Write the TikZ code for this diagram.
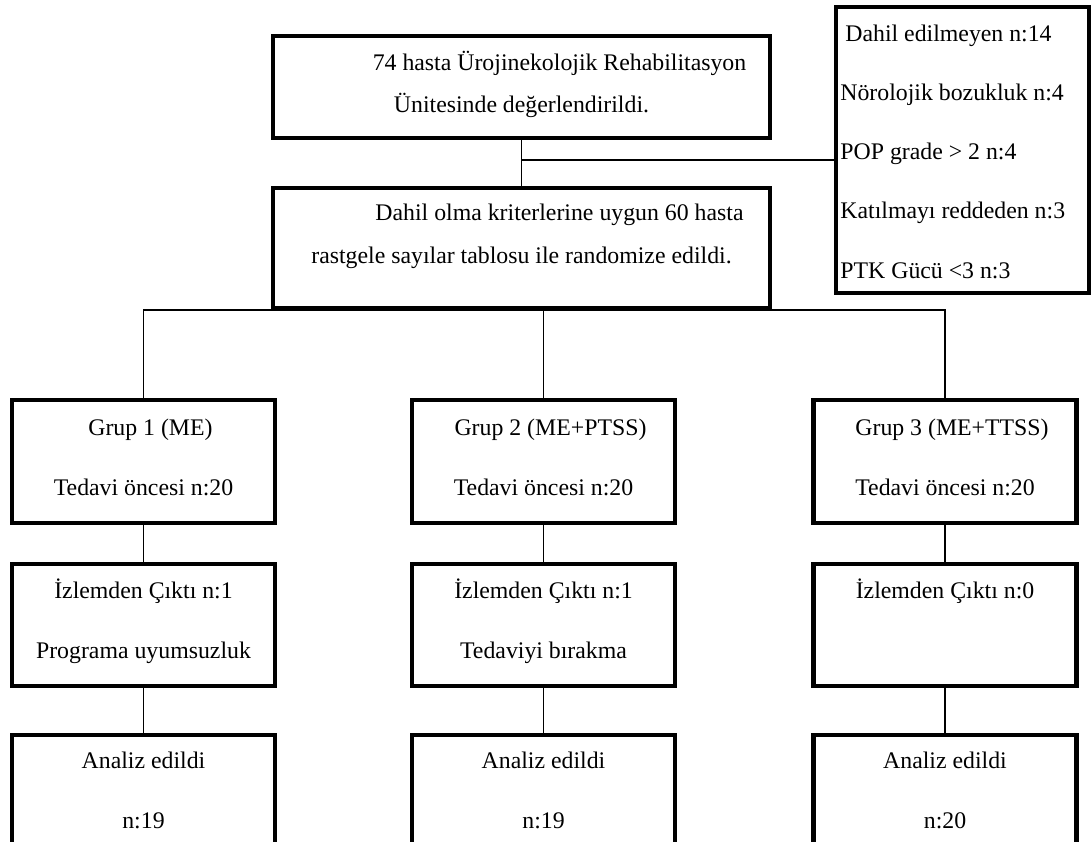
\documentclass[tikz,border=0pt]{standalone}
\usepackage{fontspec}
\setmainfont{Liberation Serif}
\begin{document}
\begin{tikzpicture}[x=0.5pt, y=-0.5pt,
  box/.style={rectangle, draw, line width=2.2pt, inner sep=0pt,
    minimum width=131.5pt, minimum height=61.5pt},
  txt/.style={inner sep=0pt, align=center, anchor=base,
    font=\fontsize{11.9}{30}\selectfont},
  link/.style={line width=0.75pt}
]
\clip (0,0) rectangle (1092,841);
\fill[white] (0,0) rectangle (1092,841);
\node[box, minimum width=248.5pt, minimum height=51pt] (top) at (521.5,87) {};
\node[box, minimum width=248.5pt, minimum height=60pt] (rand) at (521.5,248) {};
\node[box, minimum width=126.5pt, minimum height=143pt] (excl) at (962.5,150) {};
\node[box] (g1) at (143.5,461.5) {};
\node[box] (g2) at (543.5,461.5) {};
\node[box] (g3) at (945,461.5) {};
\node[box, minimum height=61pt] (d1) at (143.5,625) {};
\node[box, minimum height=61pt] (d2) at (543.5,625) {};
\node[box, minimum height=61pt] (d3) at (945,625) {};
\node[box, minimum height=70pt] (a1) at (143.5,805) {};
\node[box, minimum height=70pt] (a2) at (543.5,805) {};
\node[box, minimum height=70pt] (a3) at (945,805) {};
\node[txt, font=\fontsize{11.9}{21}\selectfont] (topt) at (521.5,112)
  {\hspace*{38pt}74 hasta Ürojinekolojik Rehabilitasyon\\Ünitesinde değerlendirildi.};
\node[txt, font=\fontsize{11.9}{21.5}\selectfont] (randt) at (521.5,263)
  {\hspace*{38pt}Dahil olma kriterlerine uygun 60 hasta\\rastgele sayılar tablosu ile randomize edildi.};
\node[txt, align=left, anchor=base west, font=\fontsize{11.9}{29.6}\selectfont] (exclt) at (840,278)
  {\hspace*{2.5pt}Dahil edilmeyen n:14\\Nörolojik bozukluk n:4\\POP grade > 2 n:4\\Katılmayı reddeden n:3\\PTK Gücü <3 n:3};
\node[txt] (g1t) at (143.5,495) {\hspace*{7pt}Grup 1 (ME)\\Tedavi öncesi n:20};
\node[txt] (g2t) at (543.5,495) {\hspace*{7pt}Grup 2 (ME+PTSS)\\Tedavi öncesi n:20};
\node[txt] (g3t) at (945,495) {\hspace*{7pt}Grup 3 (ME+TTSS)\\Tedavi öncesi n:20};
\node[txt] (d1t) at (143.5,658) {İzlemden Çıktı n:1\\Programa uyumsuzluk};
\node[txt] (d2t) at (543.5,658) {İzlemden Çıktı n:1\\Tedaviyi bırakma};
\node[txt] (d3t) at (945,598) {İzlemden Çıktı n:0};
\node[txt] (a1t) at (143.5,828) {Analiz edildi\\n:19};
\node[txt] (a2t) at (543.5,828) {Analiz edildi\\n:19};
\node[txt] (a3t) at (945,828) {Analiz edildi\\n:20};
\coordinate (split) at (521.5,160);
\draw[link] (top.south) -- (rand.north);
\draw[link] (split) -- (split -| excl.west);
\draw[link] (g1.north) |- (g3.north |- rand.south) -- (g3.north);
\draw[link] (g2.north |- rand.south) -- (g2.north);
\draw[link] (g1.south) -- (d1.north);
\draw[link] (g2.south) -- (d2.north);
\draw[link] (g3.south) -- (d3.north);
\draw[link] (d1.south) -- (a1.north);
\draw[link] (d2.south) -- (a2.north);
\draw[link] (d3.south) -- (a3.north);
\end{tikzpicture}
\end{document}
